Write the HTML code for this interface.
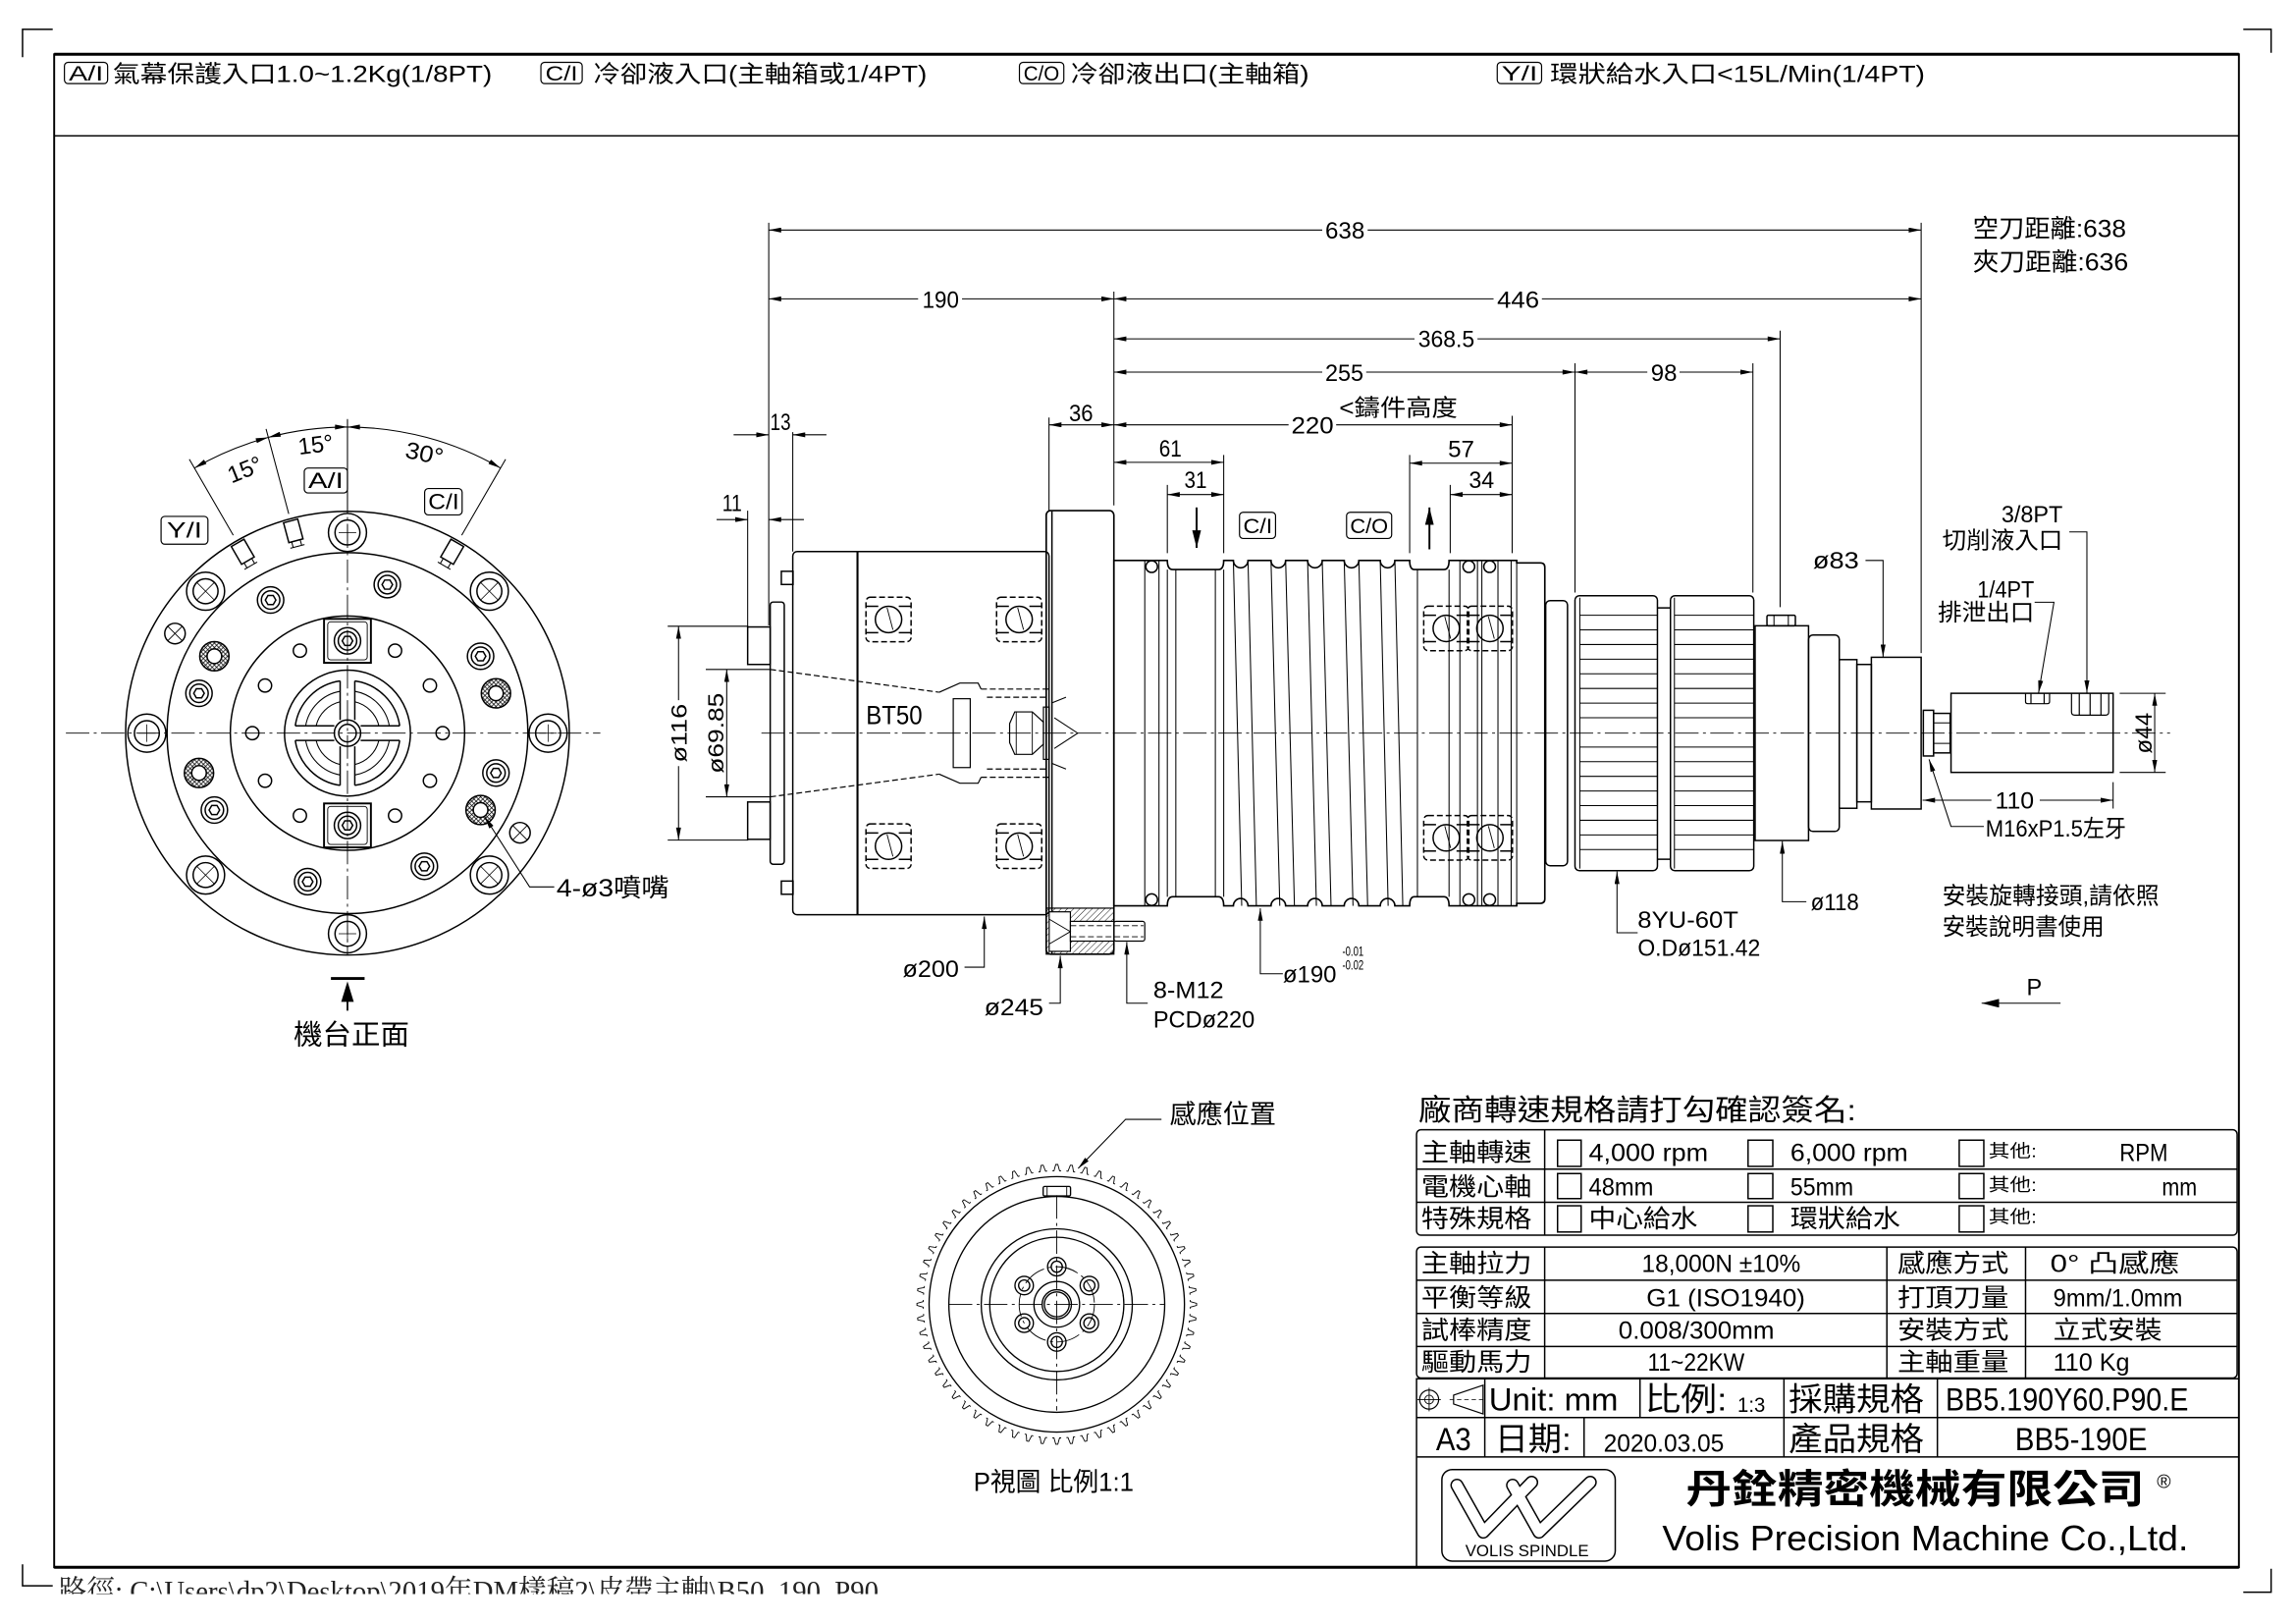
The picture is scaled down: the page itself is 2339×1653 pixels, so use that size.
<!DOCTYPE html>
<html><head><meta charset="utf-8"><style>
html,body{margin:0;padding:0;background:#fff;}
svg{display:block;}
text{font-family:"Liberation Sans","Noto Sans CJK TC",sans-serif;fill:#000;stroke:none;}
.cl{stroke-dasharray:16 3 2 3;stroke-width:0.6;}
.d{stroke-width:0.7;}
.dash{stroke-dasharray:4 2;}
</style></head><body>
<svg xmlns="http://www.w3.org/2000/svg" xmlns:xlink="http://www.w3.org/1999/xlink" width="2339" height="1653" viewBox="0 0 1568 1108">
<defs>
<marker id="a" viewBox="0 0 10 4" refX="10" refY="2" markerWidth="9" markerHeight="3.4" markerUnits="userSpaceOnUse" orient="auto-start-reverse"><path d="M0,0L10,2L0,4z" fill="#000" stroke="none"/></marker>
<marker id="b" viewBox="0 0 12 6" refX="12" refY="3" markerWidth="12" markerHeight="6" markerUnits="userSpaceOnUse" orient="auto-start-reverse"><path d="M0,0L12,3L0,6z" fill="#000" stroke="none"/></marker>
<pattern id="xh" width="3" height="3" patternUnits="userSpaceOnUse"><path d="M0,0L3,3M3,0L0,3" stroke="#000" stroke-width="0.5" fill="none"/></pattern>
<pattern id="hh" width="3" height="3" patternUnits="userSpaceOnUse" patternTransform="rotate(45)"><line x1="0" y1="0" x2="0" y2="3" stroke="#000" stroke-width="0.6"/></pattern>
<clipPath id="fc"><rect x="0" y="1070" width="900" height="18.3"/></clipPath>
<path id="tooth" d="M-3,-91.2L-1.9,-91.2L-0.7,-95.5L0.7,-95.5L1.9,-91.2L3,-91.2" fill="none" stroke="#000" stroke-width="0.6"/>
<g id="t5"><use href="#tooth"/><use href="#tooth" transform="rotate(6)"/><use href="#tooth" transform="rotate(12)"/><use href="#tooth" transform="rotate(18)"/><use href="#tooth" transform="rotate(24)"/></g>
<g id="bh" fill="none" stroke="#000"><circle r="13"/><circle r="8.5"/><path d="M-6,0H6M0,-6V6" stroke-width="0.5"/></g>
<g id="bx" fill="none" stroke="#000"><circle r="13"/><circle r="8.5"/><path d="M-6,-6L6,6M6,-6L-6,6" stroke-width="0.5"/></g>
<g id="hs" fill="none" stroke="#000"><circle r="9"/><circle r="6.3"/><path d="M3.6,0L1.8,3.1L-1.8,3.1L-3.6,0L-1.8,-3.1L1.8,-3.1Z"/></g>
<g id="hn" stroke="#000"><circle r="10" fill="url(#xh)"/><circle r="5" fill="#fff"/></g>
<g id="sx" fill="none" stroke="#000"><circle r="7"/><path d="M-5,-5L5,5M5,-5L-5,5" stroke-width="0.6"/></g>
<g id="brg" fill="none" stroke="#000"><rect x="-15.4" y="-15.2" width="30.8" height="30.4" rx="3" stroke-dasharray="4 2"/><path d="M-15.4,-9H-7M7,-9H15.4M-15.4,9H-7M7,9H15.4"/><circle r="9"/><path d="M-1,-8L3,7" stroke-width="0.6"/></g>
</defs>

<!-- corner marks -->
<g fill="none" stroke="#000" stroke-width="1">
<path d="M15.4,39V20H36"/><path d="M1532,20H1551V36"/><path d="M15.4,1068V1082.7H36"/><path d="M1532,1087H1551V1071"/>
</g>

<!-- frame -->
<g fill="none" stroke="#000">
<rect x="37" y="37" width="1492" height="1033" stroke-width="1.3"/>
<line x1="37" y1="37" x2="1529" y2="37" stroke-width="2"/>
<line x1="37" y1="1070" x2="1529" y2="1070" stroke-width="2"/>
<line x1="37" y1="92.7" x2="1529" y2="92.7" stroke-width="1"/>
<rect x="44" y="42.5" width="29.5" height="14.5" rx="2.5" stroke-width="0.8"/>
<rect x="369.4" y="42.5" width="28.2" height="14.5" rx="2.5" stroke-width="0.8"/>
<rect x="696.2" y="42.5" width="30.3" height="14.5" rx="2.5" stroke-width="0.8"/>
<rect x="1022.5" y="42.5" width="30.3" height="14.5" rx="2.5" stroke-width="0.8"/>
</g>
<text x="47" y="55" font-size="14" textLength="23.5" lengthAdjust="spacingAndGlyphs">A/I</text>
<text x="77" y="56" font-size="16" textLength="259" lengthAdjust="spacingAndGlyphs">氣幕保護入口1.0~1.2Kg(1/8PT)</text>
<text x="372.5" y="55" font-size="14" textLength="22" lengthAdjust="spacingAndGlyphs">C/I</text>
<text x="405" y="56" font-size="16" textLength="228" lengthAdjust="spacingAndGlyphs">冷卻液入口(主軸箱或1/4PT)</text>
<text x="699" y="55" font-size="14" textLength="24.5" lengthAdjust="spacingAndGlyphs">C/O</text>
<text x="731" y="56" font-size="16" textLength="163" lengthAdjust="spacingAndGlyphs">冷卻液出口(主軸箱)</text>
<text x="1025.5" y="55" font-size="14" textLength="24.5" lengthAdjust="spacingAndGlyphs">Y/I</text>
<text x="1058.6" y="56" font-size="16" textLength="256" lengthAdjust="spacingAndGlyphs">環狀給水入口&lt;15L/Min(1/4PT)</text>

<!-- footer path -->
<g clip-path="url(#fc)"><text x="40" y="1093" font-size="20" textLength="560" lengthAdjust="spacingAndGlyphs" style="font-family:'Liberation Serif','Noto Serif CJK SC',serif;fill:#222">路徑: C:\Users\dp2\Desktop\2019年DM樣稿2\皮帶主軸\B50_190_P90</text></g>

<!-- ================= FRONT VIEW ================= -->
<g fill="none" stroke="#000" stroke-width="1">
<line class="cl" x1="45" y1="500.5" x2="410" y2="500.5"/>
<line class="cl" x1="237.3" y1="286" x2="237.3" y2="652"/>
<g transform="translate(237.3,500.5)">
 <circle r="151.5"/><circle r="123.2"/><circle r="80"/><circle r="43"/>
 <use href="#bh" x="137" y="0"/><use href="#bx" x="96.9" y="96.9"/><use href="#bh" x="0" y="137"/><use href="#bx" x="-96.9" y="96.9"/>
 <use href="#bh" x="-137" y="0"/><use href="#bx" x="-96.9" y="-96.9"/><use href="#bh" x="0" y="-137"/><use href="#bx" x="96.9" y="-96.9"/>
 <use href="#hs" x="101.4" y="27.2"/><use href="#hs" x="52.5" y="90.9"/><use href="#hs" x="-27.2" y="101.4"/><use href="#hs" x="-90.9" y="52.5"/>
 <use href="#hs" x="-101.4" y="-27.2"/><use href="#hs" x="-52.5" y="-90.9"/><use href="#hs" x="27.2" y="-101.4"/><use href="#hs" x="90.9" y="-52.5"/>
 <use href="#hn" x="90.9" y="52.5"/><use href="#hn" x="-101.4" y="27.2"/><use href="#hn" x="-90.9" y="-52.5"/><use href="#hn" x="101.4" y="-27.2"/>
 <use href="#sx" x="-117.8" y="-68"/><use href="#sx" x="117.8" y="68"/>
 <g>
  <circle cx="65" cy="0" r="4.5"/><circle cx="56.3" cy="32.5" r="4.5"/><circle cx="32.5" cy="56.3" r="4.5"/><circle cx="-32.5" cy="56.3" r="4.5"/><circle cx="-56.3" cy="32.5" r="4.5"/>
  <circle cx="-65" cy="0" r="4.5"/><circle cx="-56.3" cy="-32.5" r="4.5"/><circle cx="-32.5" cy="-56.3" r="4.5"/><circle cx="32.5" cy="-56.3" r="4.5"/><circle cx="56.3" cy="-32.5" r="4.5"/>
 </g>
 <rect x="-16" y="-78" width="32" height="30" stroke-width="1.3"/><rect x="-13.5" y="-76" width="27" height="26" rx="2" stroke-width="0.6"/>
 <rect x="-16" y="48" width="32" height="30" stroke-width="1.3"/><rect x="-13.5" y="50" width="27" height="26" rx="2" stroke-width="0.6"/>
 <use href="#hs" x="0" y="-63"/><use href="#hs" x="0" y="63"/>
 <path d="M5,-35.65A36,36 0 0 1 35.65,-5M35.65,5A36,36 0 0 1 5,35.65M-5,35.65A36,36 0 0 1 -35.65,5M-35.65,-5A36,36 0 0 1 -5,-35.65"/>
 <path d="M5,-28.57A29,29 0 0 1 28.57,-5M28.57,5A29,29 0 0 1 5,28.57M-5,28.57A29,29 0 0 1 -28.57,5M-28.57,-5A29,29 0 0 1 -5,-28.57" stroke-width="0.7"/>
 <path d="M5,-21.42A22,22 0 0 1 21.42,-5M21.42,5A22,22 0 0 1 5,21.42M-5,21.42A22,22 0 0 1 -21.42,5M-21.42,-5A22,22 0 0 1 -5,-21.42" stroke-width="0.7"/>
 <path d="M5,-9V-35.65M-5,-9V-35.65M5,9V35.65M-5,9V35.65M9,5H35.65M9,-5H35.65M-9,5H-35.65M-9,-5H-35.65"/>
 <circle r="9"/><circle r="6"/>
 <g transform="rotate(-30) translate(0,-142)"><rect x="-5" y="-8" width="10" height="14"/><path d="M-3,6v4M3,6v4M-5,10h10" stroke-width="0.7"/></g>
 <g transform="rotate(-15) translate(0,-142)"><rect x="-5" y="-8" width="10" height="14"/><path d="M-3,6v4M3,6v4M-5,10h10" stroke-width="0.7"/></g>
 <g transform="rotate(30) translate(0,-142)"><rect x="-5" y="-8" width="10" height="14"/><path d="M-3,6v4M3,6v4M-5,10h10" stroke-width="0.7"/></g>
 <path class="d" d="M-104.5,-181A209,209 0 0 1 -54.1,-201.9" marker-start="url(#a)" marker-end="url(#a)"/>
 <path class="d" d="M-54.1,-201.9A209,209 0 0 1 0,-209" marker-start="url(#a)" marker-end="url(#a)"/>
 <path class="d" d="M0,-209A209,209 0 0 1 104.5,-181" marker-start="url(#a)" marker-end="url(#a)"/>
 <path class="d" d="M-78,-135.1L-108,-187M-40.1,-149.7L-55.6,-207.7M78,-135.1L108,-187M0,-150V-214"/>
</g>
<rect x="110" y="352.5" width="32" height="19" rx="2.5" stroke-width="0.8"/>
<rect x="207.8" y="319.5" width="29.5" height="17" rx="2.5" stroke-width="0.8"/>
<rect x="290" y="333.5" width="25.6" height="18" rx="2.5" stroke-width="0.8"/>
<path class="d" d="M378.5,605.5H361.7L331,557.5" marker-end="url(#a)"/>
<line x1="226" y1="668" x2="249" y2="668" stroke-width="2"/>
<line x1="237.3" y1="683" x2="237.3" y2="690" stroke-width="1.2"/>
<path d="M237.3,670L233,684H241.6Z" fill="#000" stroke="none"/>
<path class="d" d="M456,427.5H511M456,573.5H511M482,457H526M482,544H526"/>
<path class="d" d="M463.4,478V427.5" marker-end="url(#a)"/>
<path class="d" d="M463.4,523V573.5" marker-end="url(#a)"/>
<path class="d" d="M496.3,457V544" marker-start="url(#a)" marker-end="url(#a)"/>
</g>
<text x="167" y="326" font-size="16" textLength="24" lengthAdjust="spacingAndGlyphs" transform="rotate(-22 167 320)" text-anchor="middle">15°</text>
<text x="215.5" y="309" font-size="16" textLength="24" lengthAdjust="spacingAndGlyphs" transform="rotate(-7 215.5 303)" text-anchor="middle">15°</text>
<text x="290" y="315" font-size="16" textLength="26" lengthAdjust="spacingAndGlyphs" transform="rotate(12 290 309)" text-anchor="middle">30°</text>
<text x="114" y="367" font-size="15" textLength="24" lengthAdjust="spacingAndGlyphs">Y/I</text>
<text x="210.5" y="333" font-size="15" textLength="24" lengthAdjust="spacingAndGlyphs">A/I</text>
<text x="292.5" y="347.5" font-size="15" textLength="21" lengthAdjust="spacingAndGlyphs">C/I</text>
<text x="380" y="612" font-size="17" textLength="77" lengthAdjust="spacingAndGlyphs">4-ø3噴嘴</text>
<text x="200.5" y="713" font-size="19" textLength="79" lengthAdjust="spacingAndGlyphs">機台正面</text>
<text x="0" y="0" font-size="15" textLength="40" lengthAdjust="spacingAndGlyphs" text-anchor="middle" transform="translate(469,500.5) rotate(-90)">ø116</text>
<text x="0" y="0" font-size="15" textLength="55" lengthAdjust="spacingAndGlyphs" text-anchor="middle" transform="translate(494,500.5) rotate(-90)">ø69.85</text>

<!-- ================= SIDE VIEW ================= -->
<g fill="none" stroke="#000" stroke-width="1">
<line class="cl" x1="520" y1="500.5" x2="1482" y2="500.5"/>
<rect x="510.6" y="428" width="15.4" height="25.6"/>
<rect x="510.6" y="547.5" width="15.4" height="25.5"/>
<rect x="526" y="411" width="9.6" height="179" rx="2"/>
<rect x="533.6" y="390" width="8" height="9"/>
<rect x="533.6" y="601.5" width="8" height="9"/>
<rect x="541.4" y="376.5" width="175" height="248" rx="3"/>
<line x1="585.6" y1="376.5" x2="585.6" y2="624.5" stroke-width="1.4"/>
<use href="#brg" x="606.8" y="422.9"/><use href="#brg" x="696" y="422.9"/><use href="#brg" x="606.8" y="577.7"/><use href="#brg" x="696" y="577.7"/>
<path class="dash" d="M526,457L641.4,472.6M526,544L641.4,528.5" stroke-width="0.8"/>
<path d="M641.4,472.6L655.5,466.3H668L670,470.4M641.4,528.5L655.5,534.7H668L670,530.6" stroke-width="0.8"/>
<path class="dash" d="M670,470.4H716.4M670,530.6H716.4M674,476H716M674,525H716" stroke-width="0.8"/>
<rect x="651" y="477" width="11.6" height="47" stroke-width="0.8"/>
<path d="M689.5,494L693,486H705L712.6,493V508L705,515H693L689.5,507Z" stroke-width="0.8"/>
<path d="M694,486V515M705,486V515" stroke-width="0.6"/>
<rect x="712.6" y="482.7" width="4" height="35.7" stroke-width="0.8"/>
<path d="M718,480L728,476M718,521L728,525M720,490L736,500.5L720,511" stroke-width="0.7"/>
<rect x="714.5" y="348.6" width="46.2" height="302.8" rx="3" stroke-width="1.1"/>
<line x1="718.4" y1="349" x2="718.4" y2="651"/>
<rect x="714.5" y="620" width="46.2" height="31.4" fill="url(#hh)" stroke-width="0.8"/>
<rect x="716.5" y="622.5" width="14.5" height="27" fill="#fff" stroke-width="0.8"/>
<rect x="731" y="629" width="29.7" height="13.5" fill="#fff" stroke-width="0.8"/>
<rect x="760.7" y="629" width="21.1" height="13.5" rx="1.5" stroke-width="0.8"/>
<path class="dash" d="M731,632H781M731,639.5H781" stroke-width="0.6"/>
<path d="M716.5,627.5L731,636L716.5,644.5" stroke-width="0.6"/>
<path d="M760.7,382.6H797.2Q797.2,388.8 801,388.8H832Q835.7,388.8 835.7,382.6H842.3A5,5 0 0 0 852.3,382.6H868A5,5 0 0 0 878,382.6H893A5,5 0 0 0 903,382.6H918A5,5 0 0 0 928,382.6H942.6A5,5 0 0 0 952.6,382.6H962.7Q962.7,388.8 966,388.8H986Q989.6,388.8 989.6,382.6H1035.8V384.3H1052Q1055,384.3 1055,387.3V613.7Q1055,616.7 1052,616.7H1035.8V618.4H989.6Q989.6,612.2 986,612.2H966Q962.7,612.2 962.7,618.4H952.6A5,5 0 0 0 942.6,618.4H928A5,5 0 0 0 918,618.4H903A5,5 0 0 0 893,618.4H878A5,5 0 0 0 868,618.4H852.3A5,5 0 0 0 842.3,618.4H835.7Q835.7,612.2 832,612.2H801Q797.2,612.2 797.2,618.4H760.7Z" stroke-width="1.1"/>
<circle cx="786.5" cy="386.8" r="4"/><circle cx="1003.1" cy="386.8" r="4"/><circle cx="1017.3" cy="386.8" r="4"/>
<circle cx="786.5" cy="614.2" r="4"/><circle cx="1003.1" cy="614.2" r="4"/><circle cx="1017.3" cy="614.2" r="4"/>
<path d="M781.8,382.6V618.4M791.5,382.6V618.4M797.2,388.8V612.2M803,388.8V612.2M830,388.8V612.2M835.7,388.8V612.2M968,388.8V612.2M989.6,388.8V612.2M997,382.6V618.4M1009,382.6V618.4M1012,382.6V618.4M1023,382.6V618.4M1032,382.6V618.4M1035.8,382.6V618.4" stroke-width="0.7"/>
<path d="M842.3,382.6L848,618.4M852.3,382.6L858,618.4M868,382.6L874,618.4M878,382.6L884,618.4M893,382.6L899,618.4M903,382.6L909,618.4M918,382.6L924,618.4M928,382.6L934,618.4M942.6,382.6L948,618.4M952.6,382.6L958,618.4" stroke-width="0.7"/>
<use href="#brg" x="987.7" y="429"/><use href="#brg" x="1017.5" y="429"/><use href="#brg" x="987.7" y="572"/><use href="#brg" x="1017.5" y="572"/>
<rect x="1055.6" y="410" width="14.9" height="181" rx="3"/>
<rect x="1075.6" y="406.7" width="56.3" height="187.7" rx="3"/>
<line x1="1078.9" y1="408" x2="1078.9" y2="593" stroke-width="0.7"/>
<rect x="1140.8" y="406.7" width="56.9" height="187.7" rx="3"/>
<line x1="1143.5" y1="408" x2="1143.5" y2="593" stroke-width="0.7"/>
<path d="M1131.9,415H1140.8M1131.9,586.6H1140.8"/>
<path stroke-width="0.7" d="M1078.9,420H1131.9M1078.9,430H1131.9M1078.9,440H1131.9M1078.9,450H1131.9M1078.9,460H1131.9M1078.9,470H1131.9M1078.9,480H1131.9M1078.9,490H1131.9M1078.9,510H1131.9M1078.9,520H1131.9M1078.9,530H1131.9M1078.9,540H1131.9M1078.9,550H1131.9M1078.9,560H1131.9M1078.9,570H1131.9M1078.9,580H1131.9M1143.5,420H1197.7M1143.5,430H1197.7M1143.5,440H1197.7M1143.5,450H1197.7M1143.5,460H1197.7M1143.5,470H1197.7M1143.5,480H1197.7M1143.5,490H1197.7M1143.5,510H1197.7M1143.5,520H1197.7M1143.5,530H1197.7M1143.5,540H1197.7M1143.5,550H1197.7M1143.5,560H1197.7M1143.5,570H1197.7M1143.5,580H1197.7"/>
<rect x="1198.6" y="427.2" width="36.5" height="146.6"/>
<rect x="1206.7" y="420" width="19.4" height="7.2" rx="1"/>
<path d="M1211.5,420V427.2M1221.3,420V427.2" stroke-width="0.7"/>
<rect x="1235.1" y="433.5" width="21" height="134.1" rx="3"/>
<rect x="1256.1" y="450.3" width="12" height="101.5"/>
<rect x="1268.1" y="453.6" width="9.9" height="93.8"/>
<rect x="1278" y="448.7" width="34" height="103.6"/>
<rect x="1313.5" y="484.9" width="7" height="31.2"/>
<rect x="1320.5" y="487" width="11.3" height="27"/>
<path d="M1320.5,493.5H1331.8M1320.5,507.5H1331.8" stroke-width="0.7"/>
<rect x="1332.4" y="473.3" width="110.7" height="54"/>
<path d="M1383.3,473.3V479Q1383.3,480.4 1385,480.4H1398Q1399.7,480.4 1399.7,479V473.3M1387,473.3V480.4M1396,473.3V480.4" stroke-width="0.8"/>
<path d="M1414.7,473.3V486Q1414.7,488.2 1417,488.2H1437.8Q1440.1,488.2 1440.1,486V473.3M1420,473.3V488.2M1434.8,473.3V488.2M1427.4,473.3V488.2" stroke-width="0.8"/>
<g class="d">
<path d="M525,152V427M510.6,348.6V428M541.4,295V376.5M716.4,285V348.6M760.7,199V345M797.2,331V377.6M835.7,310.6V377.6M962.7,310.6V377.6M990.4,331V377.6M1032.7,283.8V377.6M1075.6,248V404.5M1197.1,248V404.5M1215.7,225.7V414.5M1312,152V445.8"/>
<path d="M903,157H525" marker-end="url(#a)"/><path d="M934,157H1312" marker-end="url(#a)"/>
<path d="M627,204H525" marker-end="url(#a)"/><path d="M657,204H760.7" marker-end="url(#a)"/>
<path d="M1020,204H760.7" marker-end="url(#a)"/><path d="M1053,204H1312" marker-end="url(#a)"/>
<path d="M966,231.3H760.7" marker-end="url(#a)"/><path d="M1009,231.3H1215.7" marker-end="url(#a)"/>
<path d="M903,254H760.7" marker-end="url(#a)"/><path d="M933,254H1075.6" marker-end="url(#a)"/>
<path d="M1125,254H1075.6" marker-end="url(#a)"/><path d="M1147,254H1197.1" marker-end="url(#a)"/>
<path d="M880,290H760.7" marker-end="url(#a)"/><path d="M912.5,290H1032.7" marker-end="url(#a)"/>
<path d="M716.4,290H760.7" marker-start="url(#a)" marker-end="url(#a)"/>
<path d="M501,296.8H525" marker-end="url(#a)"/><path d="M564.4,296.8H541.4" marker-end="url(#a)"/>
<path d="M489.4,354.7H510.6" marker-end="url(#a)"/><path d="M549,354.7H525" marker-end="url(#a)"/>
<path d="M760.7,315.6H835.7" marker-start="url(#a)" marker-end="url(#a)"/>
<path d="M797.2,337.6H835.7" marker-start="url(#a)" marker-end="url(#a)"/>
<path d="M962.7,316.2H1032.7" marker-start="url(#a)" marker-end="url(#a)"/>
<path d="M990.4,337.6H1032.7" marker-start="url(#a)" marker-end="url(#a)"/>
</g>
<path d="M817.2,346.4V374" stroke-width="1.3" marker-end="url(#b)"/>
<path d="M976.2,375V346.4" stroke-width="1.3" marker-end="url(#b)"/>
<rect x="846.5" y="349.7" width="24.6" height="17.9" rx="2.5" stroke-width="0.8"/>
<rect x="919.6" y="349.7" width="30.8" height="17.9" rx="2.5" stroke-width="0.8"/>
<g class="d">
<path d="M658.7,660.3H672.2V625.7" marker-end="url(#a)"/>
<path d="M716.4,684.9H724.1V652.5" marker-end="url(#a)"/>
<path d="M783.8,684.9H769.5V643.2" marker-end="url(#a)"/>
<path d="M876.1,664.8H860.7V620.1" marker-end="url(#a)"/>
<path d="M1118.4,636.8H1104.3V595" marker-end="url(#a)"/>
<path d="M1233.6,615.6H1217.2V574.3" marker-end="url(#a)"/>
<path d="M1354.8,564.2H1332.4L1317.4,518.4" marker-end="url(#a)"/>
<path d="M1274,382.6H1286V448.5" marker-end="url(#a)"/>
<path d="M1413.2,363.1H1425.2V473" marker-end="url(#a)"/>
<path d="M1389.5,411.1H1402.7L1392.2,473" marker-end="url(#a)"/>
<path d="M1447.6,473.3H1479M1447.6,527.3H1479M1443.1,534V552"/>
<path d="M1471.5,473.3V527.3" marker-start="url(#a)" marker-end="url(#a)"/>
<path d="M1360,546.3H1313" marker-end="url(#a)"/><path d="M1393,546.3H1443.1" marker-end="url(#a)"/>
<path d="M1407.2,684.9H1353.3" marker-end="url(#b)"/>
</g>
</g>
<g font-size="16">
<text x="905" y="163" textLength="27" lengthAdjust="spacingAndGlyphs">638</text>
<text x="629.9" y="210" textLength="25" lengthAdjust="spacingAndGlyphs">190</text>
<text x="1022.4" y="210" textLength="28.8" lengthAdjust="spacingAndGlyphs">446</text>
<text x="968.5" y="237" textLength="38.5" lengthAdjust="spacingAndGlyphs">368.5</text>
<text x="905" y="260" textLength="26.2" lengthAdjust="spacingAndGlyphs">255</text>
<text x="1127.4" y="260" textLength="17.9" lengthAdjust="spacingAndGlyphs">98</text>
<text x="881.9" y="296" textLength="28.9" lengthAdjust="spacingAndGlyphs">220</text>
<text x="914.6" y="284" textLength="80.8" lengthAdjust="spacingAndGlyphs">&lt;鑄件高度</text>
<text x="730" y="287.5" textLength="16.5" lengthAdjust="spacingAndGlyphs">36</text>
<text x="526" y="293.7" textLength="14" lengthAdjust="spacingAndGlyphs">13</text>
<text x="493.2" y="349" textLength="13.5" lengthAdjust="spacingAndGlyphs">11</text>
<text x="791.5" y="311.7" textLength="15.5" lengthAdjust="spacingAndGlyphs">61</text>
<text x="808.8" y="333.2" textLength="15.4" lengthAdjust="spacingAndGlyphs">31</text>
<text x="988.9" y="312" textLength="18" lengthAdjust="spacingAndGlyphs">57</text>
<text x="1003.1" y="333.2" textLength="17.3" lengthAdjust="spacingAndGlyphs">34</text>
<text x="849" y="364" font-size="14" textLength="20" lengthAdjust="spacingAndGlyphs">C/I</text>
<text x="922" y="364" font-size="14" textLength="26" lengthAdjust="spacingAndGlyphs">C/O</text>
<text x="591.4" y="494.5" font-size="18" textLength="38.5" lengthAdjust="spacingAndGlyphs">BT50</text>
<text x="616.4" y="667" textLength="38.5" lengthAdjust="spacingAndGlyphs">ø200</text>
<text x="672.2" y="693" textLength="40.4" lengthAdjust="spacingAndGlyphs">ø245</text>
<text x="787.6" y="681.5" textLength="48.1" lengthAdjust="spacingAndGlyphs">8-M12</text>
<text x="787.6" y="701.5" textLength="69.3" lengthAdjust="spacingAndGlyphs">PCDø220</text>
<text x="876.1" y="670.5" textLength="36.6" lengthAdjust="spacingAndGlyphs">ø190</text>
<text x="916.7" y="652.5" font-size="9" textLength="14.6" lengthAdjust="spacingAndGlyphs">-0.01</text>
<text x="916.7" y="662" font-size="9" textLength="14.6" lengthAdjust="spacingAndGlyphs">-0.02</text>
<text x="1118.4" y="633.5" textLength="68.8" lengthAdjust="spacingAndGlyphs">8YU-60T</text>
<text x="1118.4" y="652.5" textLength="83.8" lengthAdjust="spacingAndGlyphs">O.Dø151.42</text>
<text x="1236.6" y="621.3" textLength="32.9" lengthAdjust="spacingAndGlyphs">ø118</text>
<text x="1356" y="571" textLength="96" lengthAdjust="spacingAndGlyphs">M16xP1.5左牙</text>
<text x="1362.5" y="552" textLength="26.6" lengthAdjust="spacingAndGlyphs">110</text>
<text x="0" y="0" textLength="28" lengthAdjust="spacingAndGlyphs" text-anchor="middle" transform="translate(1469.5,500.5) rotate(-90)">ø44</text>
<text x="1326.4" y="617" textLength="148.1" lengthAdjust="spacingAndGlyphs">安裝旋轉接頭,請依照</text>
<text x="1326.4" y="638.2" textLength="110.7" lengthAdjust="spacingAndGlyphs">安裝說明書使用</text>
<text x="1384" y="679.5" textLength="10.5" lengthAdjust="spacingAndGlyphs">P</text>
<text x="1350.3" y="407.8" textLength="38.9" lengthAdjust="spacingAndGlyphs">1/4PT</text>
<text x="1323.4" y="423.6" textLength="65.8" lengthAdjust="spacingAndGlyphs">排泄出口</text>
<text x="1366.8" y="356.5" textLength="41.9" lengthAdjust="spacingAndGlyphs">3/8PT</text>
<text x="1326.4" y="374.5" textLength="82.3" lengthAdjust="spacingAndGlyphs">切削液入口</text>
<text x="1238.1" y="388" textLength="31.4" lengthAdjust="spacingAndGlyphs">ø83</text>
<text x="1347.3" y="161.8" font-size="17" textLength="104.7" lengthAdjust="spacingAndGlyphs">空刀距離:638</text>
<text x="1347.3" y="184.8" font-size="17" textLength="106.2" lengthAdjust="spacingAndGlyphs">夾刀距離:636</text>
</g>

<!-- ================= P VIEW ================= -->
<g fill="none" stroke="#000" stroke-width="0.9">
<g transform="translate(721.7,890.5)">
 <use href="#t5"/><use href="#t5" transform="rotate(30)"/><use href="#t5" transform="rotate(60)"/><use href="#t5" transform="rotate(90)"/>
 <use href="#t5" transform="rotate(120)"/><use href="#t5" transform="rotate(150)"/><use href="#t5" transform="rotate(180)"/><use href="#t5" transform="rotate(210)"/>
 <use href="#t5" transform="rotate(240)"/><use href="#t5" transform="rotate(270)"/><use href="#t5" transform="rotate(300)"/><use href="#t5" transform="rotate(330)"/>
 <circle r="87.2"/><circle r="73.7"/><circle r="51.6"/><circle r="45.8"/>
 <circle r="25.7" class="cl"/>
 <circle cx="0" cy="-25.7" r="6.3"/><circle cx="0" cy="-25.7" r="3.8"/>
 <circle cx="22.26" cy="-12.85" r="6.3"/><circle cx="22.26" cy="-12.85" r="3.8"/>
 <circle cx="22.26" cy="12.85" r="6.3"/><circle cx="22.26" cy="12.85" r="3.8"/>
 <circle cx="0" cy="25.7" r="6.3"/><circle cx="0" cy="25.7" r="3.8"/>
 <circle cx="-22.26" cy="12.85" r="6.3"/><circle cx="-22.26" cy="12.85" r="3.8"/>
 <circle cx="-22.26" cy="-12.85" r="6.3"/><circle cx="-22.26" cy="-12.85" r="3.8"/>
 <circle r="15.6"/><circle r="10"/><circle r="8.5"/>
 <line class="cl" x1="-73.7" y1="0" x2="73.7" y2="0"/>
 <line class="cl" x1="0" y1="-74.5" x2="0" y2="72.5"/>
</g>
<rect x="712.4" y="810" width="18.7" height="6.5" rx="1"/>
<path d="M715.1,810V816.5M728.5,810V816.5" stroke-width="0.6"/>
<path class="d" d="M793.2,764.2H768.7L736.3,797.7" marker-end="url(#a)"/>
</g>
<text x="798.8" y="767" font-size="18" textLength="72.7" lengthAdjust="spacingAndGlyphs">感應位置</text>
<text x="664.8" y="1018" font-size="18" textLength="109.5" lengthAdjust="spacingAndGlyphs">P視圖 比例1:1</text>

<!-- ================= SPEC TABLE ================= -->
<text x="968.6" y="765" font-size="20" textLength="299" lengthAdjust="spacingAndGlyphs">廠商轉速規格請打勾確認簽名:</text>
<g fill="none" stroke="#000" stroke-width="1">
<rect x="967.4" y="771.3" width="560.4" height="72" rx="3"/>
<path d="M967.4,798.2H1527.8M967.4,820.8H1527.8M1054.9,771.3V843.3"/>
<rect x="1063.7" y="778.4" width="16.1" height="17.9"/><rect x="1193.8" y="778.4" width="16.9" height="17.9"/><rect x="1338" y="778.4" width="16.8" height="17.9"/>
<rect x="1063.7" y="801.2" width="16.1" height="17.1"/><rect x="1193.8" y="801.2" width="16.9" height="17.1"/><rect x="1338" y="801.2" width="16.8" height="17.1"/>
<rect x="1063.7" y="823.2" width="16.1" height="17.9"/><rect x="1193.8" y="823.2" width="16.9" height="17.9"/><rect x="1338" y="823.2" width="16.8" height="17.9"/>
<rect x="967.4" y="851.4" width="560.4" height="89.4" rx="3"/>
<path d="M967.4,874H1527.8M967.4,896.7H1527.8M967.4,919.3H1527.8M1054.9,851.4V940.8M1288.6,851.4V940.8M1383.3,851.4V940.8"/>
<path d="M967.4,940.8V1070M967.4,941.3H1529.4M967.4,967.8H1529.4M967.4,994.7H1529.4"/>
<path d="M1014,941.3V994.7M1120,941.3V967.8M1081.8,967.8V994.7M1218.3,941.3V994.7M1323.1,941.3V994.7"/>
<circle cx="976" cy="955.5" r="6.5" stroke-width="0.8"/>
<path d="M968,955.5H984M976,947.5V963.5" stroke-width="0.6"/>
<circle cx="976" cy="955.5" r="3" stroke-width="0.6"/>
<path d="M992.7,952.5L1012.8,945.7V965.3L992.7,958.5Z" stroke-width="0.8"/>
<path d="M990,955.5H1013" stroke-width="0.5" stroke-dasharray="3 2"/>
<rect x="984.7" y="1003.3" width="118.4" height="62.5" rx="7"/>
<path d="M995,1014L1013,1046L1046,1012M1033,1014L1051,1046L1086,1012" stroke-width="9" stroke-linecap="round" stroke-linejoin="round"/>
<path d="M995,1014L1013,1046L1046,1012M1033,1014L1051,1046L1086,1012" stroke-width="7" stroke="#fff" stroke-linecap="round" stroke-linejoin="round"/>
</g>
<g font-size="17">
<text x="970.6" y="792.5" textLength="75.5" lengthAdjust="spacingAndGlyphs">主軸轉速</text>
<text x="1085" y="792.5" textLength="81.5" lengthAdjust="spacingAndGlyphs">4,000 rpm</text>
<text x="1222.7" y="792.5" textLength="80.3" lengthAdjust="spacingAndGlyphs">6,000 rpm</text>
<text x="1358" y="790" font-size="12" textLength="33" lengthAdjust="spacingAndGlyphs">其他:</text>
<text x="1447.5" y="792.5" textLength="33" lengthAdjust="spacingAndGlyphs">RPM</text>
<text x="970.6" y="816" textLength="75.5" lengthAdjust="spacingAndGlyphs">電機心軸</text>
<text x="1085" y="816" textLength="44.2" lengthAdjust="spacingAndGlyphs">48mm</text>
<text x="1222.7" y="816" textLength="43" lengthAdjust="spacingAndGlyphs">55mm</text>
<text x="1358" y="813" font-size="12" textLength="33" lengthAdjust="spacingAndGlyphs">其他:</text>
<text x="1476.4" y="816" textLength="24" lengthAdjust="spacingAndGlyphs">mm</text>
<text x="970.6" y="838" textLength="75.5" lengthAdjust="spacingAndGlyphs">特殊規格</text>
<text x="1085" y="838" textLength="74.3" lengthAdjust="spacingAndGlyphs">中心給水</text>
<text x="1222.7" y="838" textLength="75" lengthAdjust="spacingAndGlyphs">環狀給水</text>
<text x="1358" y="835" font-size="12" textLength="33" lengthAdjust="spacingAndGlyphs">其他:</text>
<text x="970.6" y="868.5" textLength="75.5" lengthAdjust="spacingAndGlyphs">主軸拉力</text>
<text x="970.6" y="891.8" textLength="75.5" lengthAdjust="spacingAndGlyphs">平衡等級</text>
<text x="970.6" y="913.9" textLength="75.5" lengthAdjust="spacingAndGlyphs">試棒精度</text>
<text x="970.6" y="935.9" textLength="75.5" lengthAdjust="spacingAndGlyphs">驅動馬力</text>
<text x="1175.4" y="868.5" text-anchor="middle" textLength="108.4" lengthAdjust="spacingAndGlyphs">18,000N ±10%</text>
<text x="1178.6" y="891.8" text-anchor="middle" textLength="108.4" lengthAdjust="spacingAndGlyphs">G1  (ISO1940)</text>
<text x="1158.5" y="913.9" text-anchor="middle" textLength="106.4" lengthAdjust="spacingAndGlyphs">0.008/300mm</text>
<text x="1158.3" y="935.9" text-anchor="middle" textLength="66.2" lengthAdjust="spacingAndGlyphs">11~22KW</text>
<text x="1295.8" y="868.5" textLength="76" lengthAdjust="spacingAndGlyphs">感應方式</text>
<text x="1295.8" y="891.8" textLength="76" lengthAdjust="spacingAndGlyphs">打頂刀量</text>
<text x="1295.8" y="913.9" textLength="76" lengthAdjust="spacingAndGlyphs">安裝方式</text>
<text x="1295.8" y="935.9" textLength="76" lengthAdjust="spacingAndGlyphs">主軸重量</text>
<text x="1400.2" y="868.5" textLength="88.3" lengthAdjust="spacingAndGlyphs">0°  凸感應</text>
<text x="1402.2" y="891.8" textLength="88.3" lengthAdjust="spacingAndGlyphs">9mm/1.0mm</text>
<text x="1402.2" y="913.9" textLength="74.3" lengthAdjust="spacingAndGlyphs">立式安裝</text>
<text x="1402.2" y="935.9" textLength="52.2" lengthAdjust="spacingAndGlyphs">110 Kg</text>
</g>
<g font-size="22">
<text x="1016.8" y="963" textLength="88.3" lengthAdjust="spacingAndGlyphs">Unit:  mm</text>
<text x="1123.2" y="963" textLength="56.2" lengthAdjust="spacingAndGlyphs">比例:</text>
<text x="1186.6" y="964" font-size="14" textLength="18.9" lengthAdjust="spacingAndGlyphs">1:3</text>
<text x="1221.5" y="963" textLength="92.4" lengthAdjust="spacingAndGlyphs">採購規格</text>
<text x="1328.7" y="963" textLength="165.8" lengthAdjust="spacingAndGlyphs">BB5.190Y60.P90.E</text>
<text x="980.7" y="990" textLength="24" lengthAdjust="spacingAndGlyphs">A3</text>
<text x="1020.8" y="990" textLength="52.2" lengthAdjust="spacingAndGlyphs">日期:</text>
<text x="1095.1" y="991" font-size="17" textLength="82.3" lengthAdjust="spacingAndGlyphs">2020.03.05</text>
<text x="1221.5" y="990" textLength="92.4" lengthAdjust="spacingAndGlyphs">產品規格</text>
<text x="1376.1" y="990" textLength="90.3" lengthAdjust="spacingAndGlyphs">BB5-190E</text>
<text x="1151.3" y="1026" font-size="27" font-weight="bold" textLength="313.1" lengthAdjust="spacingAndGlyphs">丹銓精密機械有限公司</text>
<text x="1473" y="1016" font-size="13">®</text>
<text x="1135.2" y="1058.4" font-size="24" textLength="359.3" lengthAdjust="spacingAndGlyphs">Volis Precision Machine Co.,Ltd.</text>
<text x="1000.7" y="1062.5" font-size="11" textLength="84.3" lengthAdjust="spacingAndGlyphs">VOLIS SPINDLE</text>
</g>
</svg>
</body></html>
